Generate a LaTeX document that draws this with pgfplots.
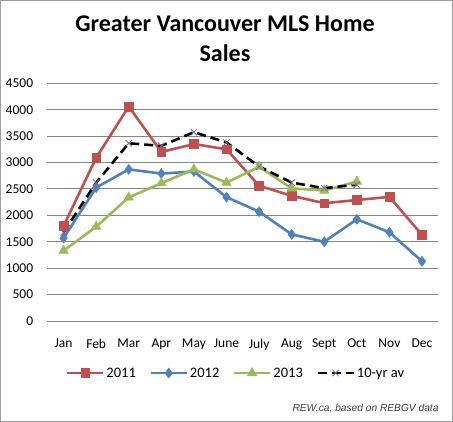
\documentclass[border=0pt]{standalone}
\usepackage{pgfplots}
\pgfplotsset{compat=1.18}
\usepackage{fontspec}
\setmainfont{Carlito}
\newfontfamily\srcfont{Liberation Sans}
\definecolor{r11}{RGB}{192,80,77}
\definecolor{b12}{RGB}{79,129,189}
\definecolor{g13}{RGB}{155,187,89}
\definecolor{p10}{RGB}{128,100,162}
\definecolor{gridc}{RGB}{134,134,134}
\begin{document}
\begin{tikzpicture}[x=1pt,y=1pt]
\useasboundingbox (0,0) rectangle (453,422);
\draw[color=gridc!80, line width=1pt] (0.5,0.5) rectangle (452.5,421.5);
\node[font=\fontsize{24}{30}\selectfont\bfseries, align=center] at (225,383) {Greater Vancouver MLS Home\\Sales};
\begin{axis}[
  at={(47.3pt,101pt)}, anchor=south west,
  scale only axis, width=391pt, height=237.7pt,
  xmin=-0.5, xmax=11.5, ymin=0, ymax=4500,
  xtick={0,...,11},
  xticklabels={Jan,Feb,Mar,Apr,May,June,July,Aug,Sept,Oct,Nov,Dec},
  ytick={0,500,...,4500},
  ymajorgrids, grid style={color=gridc, line width=0.9pt},
  axis line style={draw=none},
  tick style={draw=none},
  /pgf/number format/assume math mode=true,
  /pgf/number format/1000 sep={},
  ticklabel style={font=\fontsize{13.5}{16}\selectfont},
  y tick label style={inner sep=0pt, xshift=-14pt},
  x tick label style={inner sep=0pt, yshift=-17.5pt},
  legend columns=4,
  legend style={at={(0.4826,-0.219)}, anchor=center, draw=none, fill=none,
    font=\fontsize{14.5}{17}\selectfont,
    /tikz/every even column/.append style={column sep=11.5pt}},
  legend image code/.code={\draw[mark repeat=2,mark phase=2] plot coordinates {(0pt,0pt) (18pt,0pt) (36pt,0pt)};},
]
\addplot[color=r11, line width=2.6pt, mark=square*, mark size=4.4pt, mark options={solid, fill=r11, line width=0.5pt}]
 coordinates {(0,1800) (1,3090) (2,4060) (3,3200) (4,3350) (5,3250) (6,2560) (7,2370) (8,2230) (9,2290) (10,2350) (11,1630)};
\addlegendentry{2011}
\addplot[color=b12, line width=2.6pt, mark=diamond*, mark size=5pt, mark options={solid, fill=b12, line width=0.5pt}]
 coordinates {(0,1570) (1,2525) (2,2870) (3,2790) (4,2830) (5,2345) (6,2070) (7,1640) (8,1500) (9,1925) (10,1680) (11,1130)};
\addlegendentry{2012}
\addplot[color=g13, line width=2.6pt, mark=triangle*, mark size=5.5pt, mark options={solid, fill=g13, line width=0.5pt}]
 coordinates {(0,1330) (1,1785) (2,2340) (3,2610) (4,2870) (5,2620) (6,2920) (7,2510) (8,2470) (9,2640)};
\addlegendentry{2013}
\addplot[color=black, line width=2.6pt, dash pattern=on 9pt off 5pt, mark=x, mark size=4.5pt, mark options={solid, draw=p10, line width=0.8pt}]
 coordinates {(0,1680) (1,2620) (2,3365) (3,3315) (4,3575) (5,3380) (6,2925) (7,2620) (8,2515) (9,2580)};
\addlegendentry{10-yr av}
\end{axis}
\node[anchor=east, font=\srcfont\fontsize{10.2}{12}\selectfont\itshape, text=black!75] at (442,14) {REW.ca, based on REBGV data};
\end{tikzpicture}
\end{document}
